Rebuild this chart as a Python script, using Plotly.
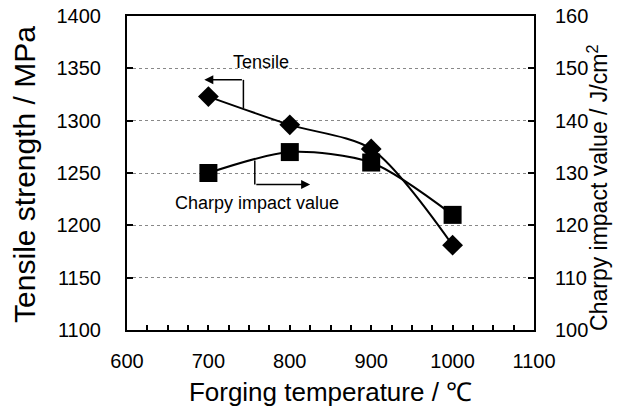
import plotly.graph_objects as go

temps = [700, 800, 900, 1000]
tensile = [1323, 1296, 1273, 1181]
charpy = [130, 134, 132, 122]

x_ticks = [600, 700, 800, 900, 1000, 1100]
y1_ticks = [1100, 1150, 1200, 1250, 1300, 1350, 1400]
y2_ticks = [100, 110, 120, 130, 140, 150, 160]

FONT = "Liberation Sans, Arial, sans-serif"

fig = go.Figure()
fig.add_trace(go.Scatter(
    x=temps, y=tensile, mode="lines+markers",
    line=dict(color="black", width=2, shape="spline", smoothing=0.8),
    marker=dict(symbol="diamond", size=16, color="black"),
    yaxis="y", showlegend=False))
fig.add_trace(go.Scatter(
    x=temps, y=charpy, mode="lines+markers",
    line=dict(color="black", width=2, shape="spline", smoothing=0.8),
    marker=dict(symbol="square", size=18, color="black"),
    yaxis="y2", showlegend=False))

# bracket arrows (data coordinates)
fig.add_shape(type="line", x0=743, x1=743, y0=1312, y1=1339, xref="x", yref="y",
              line=dict(color="black", width=1.5))
fig.add_annotation(x=695, y=1339, ax=743, ay=1339, xref="x", yref="y", axref="x", ayref="y",
                   text="", showarrow=True, arrowhead=2, arrowsize=1.2, arrowwidth=1.5, arrowcolor="black")
fig.add_shape(type="line", x0=757, x1=757, y0=1262, y1=1239, xref="x", yref="y",
              line=dict(color="black", width=1.5))
fig.add_annotation(x=825, y=1239, ax=757, ay=1239, xref="x", yref="y", axref="x", ayref="y",
                   text="", showarrow=True, arrowhead=2, arrowsize=1.2, arrowwidth=1.5, arrowcolor="black")
fig.add_annotation(x=764, y=1356, xref="x", yref="y", text="Tensile", showarrow=False,
                   font=dict(family=FONT, size=18, color="black"))
fig.add_annotation(x=760, y=1221, xref="x", yref="y", text="Charpy impact value", showarrow=False,
                   font=dict(family=FONT, size=18, color="black"))
# axis titles for the vertical axes
fig.add_annotation(x=-0.2506, y=0.494, xref="paper", yref="paper", textangle=-90,
                   xanchor="center", yanchor="middle",
                   text="Tensile strength / MPa", showarrow=False,
                   font=dict(family=FONT, size=30, color="black"))
fig.add_annotation(x=1.157, y=0.452, xref="paper", yref="paper", textangle=-90,
                   xanchor="center", yanchor="middle",
                   text="Charpy impact value / J/cm<sup>2</sup>", showarrow=False,
                   font=dict(family=FONT, size=23, color="black"))

fig.update_layout(
    width=621, height=413,
    margin=dict(l=127, r=87, t=16, b=83, autoexpand=False),
    plot_bgcolor="white", paper_bgcolor="white",
    font=dict(family=FONT, color="black"),
    xaxis=dict(range=[600, 1100], tickvals=x_ticks, ticks="inside", ticklen=5, tickwidth=1.5,
               tickcolor="black", showline=True, linecolor="black", linewidth=2, mirror=True,
               showgrid=False, zeroline=False, tickfont=dict(size=20), automargin=False,
               ticklabelstandoff=12,
               minor=dict(dtick=25, ticks="inside", ticklen=5, tickwidth=1.5, tickcolor="black", showgrid=False),
               title=dict(text="Forging temperature / ℃", font=dict(size=26), standoff=12)),
    yaxis=dict(range=[1100, 1400], tickvals=y1_ticks, ticks="inside", ticklen=6, tickwidth=1.5,
               tickcolor="black", showline=True, linecolor="black", linewidth=2, mirror=True,
               showgrid=True, gridcolor="#888888", griddash="dot", gridwidth=1, zeroline=False,
               tickfont=dict(size=20), ticklabelstandoff=20, automargin=False),
    yaxis2=dict(range=[100, 160], tickvals=y2_ticks, overlaying="y", side="right",
                ticks="inside", ticklen=6, tickwidth=1.5, tickcolor="black", showgrid=False,
                zeroline=False, tickfont=dict(size=20), ticklabelstandoff=20, automargin=False),
)

fig.write_html("out.html", config={"displayModeBar": False},
               post_script="document.body.style.margin='0';")
